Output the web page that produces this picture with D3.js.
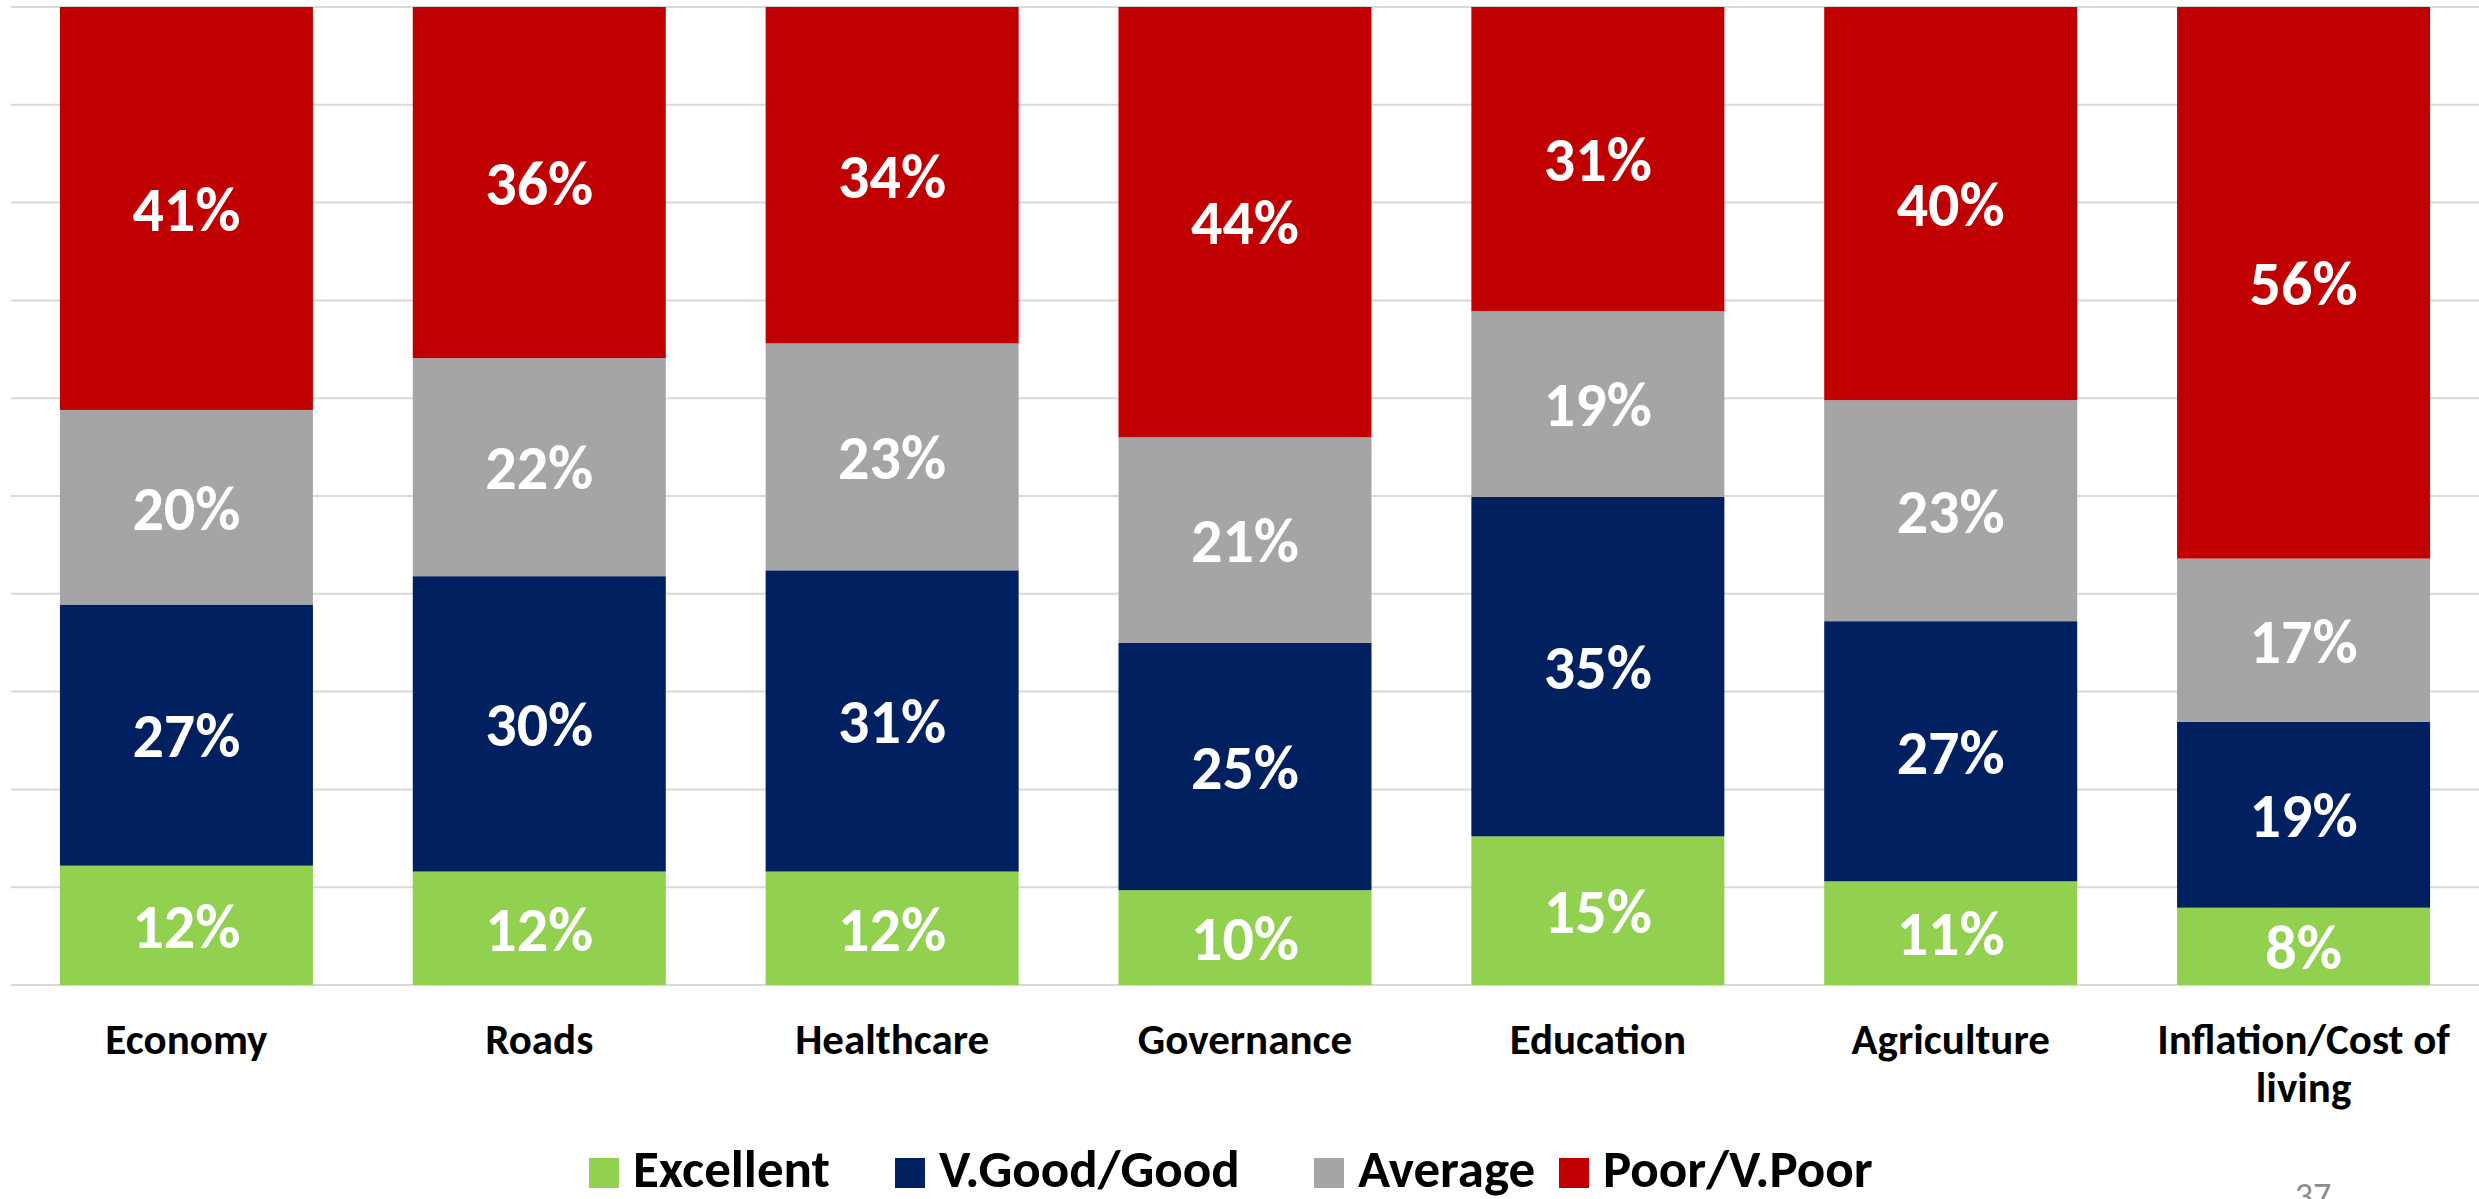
<!DOCTYPE html>
<html>
<head>
<meta charset="utf-8">
<script src="https://cdn.jsdelivr.net/npm/d3@7"></script>
<style>
  html, body { margin: 0; padding: 0; background: #fff; }
  svg { display: block; font-family: Calibri, Carlito, Lato, "Open Sans", sans-serif; }
  .grid line { stroke: #d9d9d9; stroke-width: 2; }
  .seg-label { fill: #fff; font-weight: 700; font-size: 62px; }
  .cat-label { fill: #000; font-weight: 700; font-size: 43px; }
  .legend-text { fill: #000; font-weight: 700; font-size: 53px; }
  .page-num { fill: #8c8c8c; font-size: 36px; }
</style>
</head>
<body>
<div id="chart"></div>
<script>
const categories = ["Economy", "Roads", "Healthcare", "Governance", "Education", "Agriculture", "Inflation/Cost of living"];
const seriesNames = ["Excellent", "V.Good/Good", "Average", "Poor/V.Poor"];
const colors = ["#92d050", "#002060", "#a5a5a5", "#c00000"];

// values (percent)
const excellent = [12.2, 11.6, 11.6, 9.7, 15.2, 10.6, 7.9];
const vgood = [26.7, 30.2, 30.8, 25.3, 34.7, 26.6, 19.0];
const average = [19.9, 22.3, 23.2, 21.0, 19.0, 22.6, 16.7];
const poor = [41.2, 35.9, 34.4, 44.0, 31.1, 40.2, 56.4];

const yTicks = [0, 10, 20, 30, 40, 50, 60, 70, 80, 90, 100];

const width = 2479;
const height = 1199;
const margin = { top: 7, right: 0, bottom: 214, left: 10 };

const rows = categories.map((c, i) => ({
  category: c,
  "Excellent": excellent[i],
  "V.Good/Good": vgood[i],
  "Average": average[i],
  "Poor/V.Poor": poor[i],
}));

const stacked = d3.stack().keys(seriesNames)(rows);

const x = d3.scaleBand()
  .domain(categories)
  .range([margin.left, width - margin.right + 1])
  .paddingInner(0.283)
  .paddingOuter(0.1415);

const y = d3.scaleLinear()
  .domain([0, 100])
  .range([height - margin.bottom, margin.top]);

const color = d3.scaleOrdinal().domain(seriesNames).range(colors);

const svg = d3.select("#chart")
  .append("svg")
  .attr("width", width)
  .attr("height", height);

svg.append("g")
  .attr("class", "grid")
  .selectAll("line")
  .data(yTicks)
  .join("line")
  .attr("x1", 11)
  .attr("x2", width)
  .attr("y1", (d) => y(d))
  .attr("y2", (d) => y(d));

const layer = svg.append("g")
  .selectAll("g")
  .data(stacked)
  .join("g")
  .attr("fill", (d) => color(d.key));

layer.selectAll("rect")
  .data((d) => d)
  .join("rect")
  .attr("x", (d) => x(d.data.category))
  .attr("width", x.bandwidth())
  .attr("y", (d) => y(d[1]))
  .attr("height", (d) => y(d[0]) - y(d[1]));

layer.selectAll("text")
  .data((d) => d)
  .join("text")
  .attr("class", "seg-label")
  .attr("text-anchor", "middle")
  .attr("dy", "0.36em")
  .attr("x", (d) => x(d.data.category) + x.bandwidth() / 2)
  .attr("y", (d) => (y(d[0]) + y(d[1])) / 2)
  .text((d) => Math.round(d[1] - d[0]) + "%");

// category labels, wrapped like the original
const catLines = {
  "Inflation/Cost of living": ["Inflation/Cost of", "living"],
};

svg.append("g")
  .selectAll("text")
  .data(categories)
  .join("text")
  .attr("class", "cat-label")
  .attr("text-anchor", "middle")
  .attr("x", (d) => x(d) + x.bandwidth() / 2)
  .attr("y", 1054)
  .selectAll("tspan")
  .data((d) => catLines[d] || [d])
  .join("tspan")
  .attr("x", function () { return this.parentNode.getAttribute("x"); })
  .attr("dy", (_, i) => (i === 0 ? 0 : 48))
  .text((d) => d);

// legend
const legendX = [589, 895, 1314, 1559];
const legend = svg.append("g")
  .selectAll("g")
  .data(seriesNames)
  .join("g")
  .attr("transform", (d, i) => `translate(${legendX[i]},1158)`);

legend.append("rect")
  .attr("width", 30)
  .attr("height", 30)
  .attr("fill", (d) => color(d));

legend.append("text")
  .attr("class", "legend-text")
  .attr("x", 44)
  .attr("y", 29)
  .text((d) => d);

svg.append("text")
  .attr("class", "page-num")
  .attr("x", 2313)
  .attr("y", 1208)
  .attr("text-anchor", "middle")
  .text("37");
</script>
</body>
</html>
